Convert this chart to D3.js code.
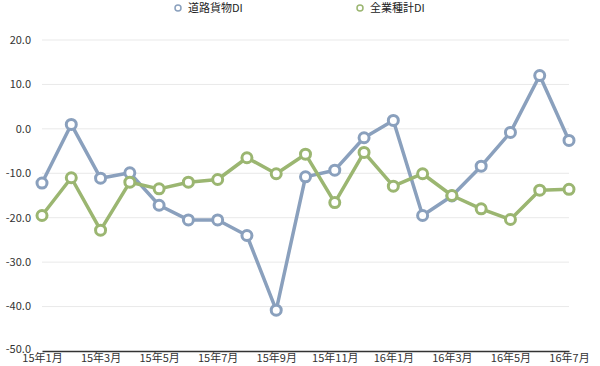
<!DOCTYPE html>
<html>
<head>
<meta charset="utf-8">
<script src="https://d3js.org/d3.v7.min.js"></script>
<style>
  body { margin: 0; background: #fff; }
  text { font-family: "Noto Sans CJK JP", "Noto Sans", sans-serif; }
</style>
</head>
<body>
<div id="chart"></div>
<script>
// months on the x axis
const months = ["15年1月","15年2月","15年3月","15年4月","15年5月","15年6月","15年7月","15年8月","15年9月","15年10月",
  "15年11月","15年12月","16年1月","16年2月","16年3月","16年4月","16年5月","16年6月","16年7月"];
const tickMonths = ["15年1月","15年3月","15年5月","15年7月","15年9月","15年11月","16年1月","16年3月","16年5月","16年7月"];
const yTicks = [-50, -40, -30, -20, -10, 0, 10, 20];

const seriesNames = ["道路貨物DI", "全業種計DI"];
const roadFreight = [-12.2, 1.0, -11.1, -9.9, -17.2, -20.5, -20.5, -24.0, -40.8, -10.8, -9.3, -2.0, 1.9, -19.5, -15.1, -8.4, -0.8, 12.0, -2.6];
const allIndustry = [-19.5, -11.0, -22.8, -12.0, -13.5, -12.0, -11.4, -6.5, -10.1, -5.7, -16.6, -5.3, -12.9, -10.1, -15.0, -18.0, -20.4, -13.8, -13.6];
const colors = ["#8aa0bd", "#9bb671"];

const width = 600, height = 366;
const svg = d3.select('#chart').append('svg')
  .attr('width', width)
  .attr('height', height);

const x = d3.scalePoint().domain(months).range([42, 569]);
const y = d3.scaleLinear().domain([-50, 20]).range([351, 40]);

// grid lines
svg.append('g')
  .selectAll('line')
  .data(yTicks.filter(d => d > -50))
  .join('line')
  .attr('x1', 42).attr('x2', 569)
  .attr('y1', d => y(d)).attr('y2', d => y(d))
  .style('stroke', '#e9e9e9')
  .style('stroke-width', 1);

// y labels
svg.append('g')
  .selectAll('text')
  .data(yTicks)
  .join('text')
  .attr('x', 31)
  .attr('y', d => y(d) - (d === -50 ? 2 : 0))
  .attr('dy', '0.35em')
  .attr('text-anchor', 'end')
  .style('font-size', '11px')
  .style('fill', '#333')
  .text(d => d.toFixed(1));

// x axis
const xAxis = svg.append('g')
  .attr('transform', `translate(0,${y(-50)})`)
  .call(d3.axisBottom(x).tickValues(tickMonths).tickSize(0).tickPadding(3));
xAxis.select('.domain').attr('stroke', '#333').attr('stroke-width', 1.5);
xAxis.selectAll('text')
  .style('font-size', '11px')
  .style('fill', '#333')
  .style('font-family', '"Noto Sans CJK JP", sans-serif');

// lines and markers
const line = d3.line().x((d, i) => x(months[i])).y(d => y(d));
[roadFreight, allIndustry].forEach((vals, s) => {
  const g = svg.append('g');
  g.append('path')
    .datum(vals)
    .attr('d', line)
    .style('fill', 'none')
    .style('stroke', colors[s])
    .style('stroke-width', 3.5)
    .style('stroke-linejoin', 'round');
  g.selectAll('circle')
    .data(vals)
    .join('circle')
    .attr('cx', (d, i) => x(months[i]))
    .attr('cy', d => y(d))
    .attr('r', 5)
    .style('fill', '#fff')
    .style('stroke', colors[s])
    .style('stroke-width', 3);
});

// legend
const legendX = [178, 360];
seriesNames.forEach((name, i) => {
  const lg = svg.append('g').attr('transform', `translate(${legendX[i]},8)`);
  lg.append('circle')
    .attr('r', 3)
    .style('fill', '#fff')
    .style('stroke', colors[i])
    .style('stroke-width', 1.5);
  lg.append('text')
    .attr('x', 10)
    .attr('dy', '0.35em')
    .style('font-size', '11px')
    .style('fill', '#222')
    .text(name);
});
</script>
</body>
</html>
